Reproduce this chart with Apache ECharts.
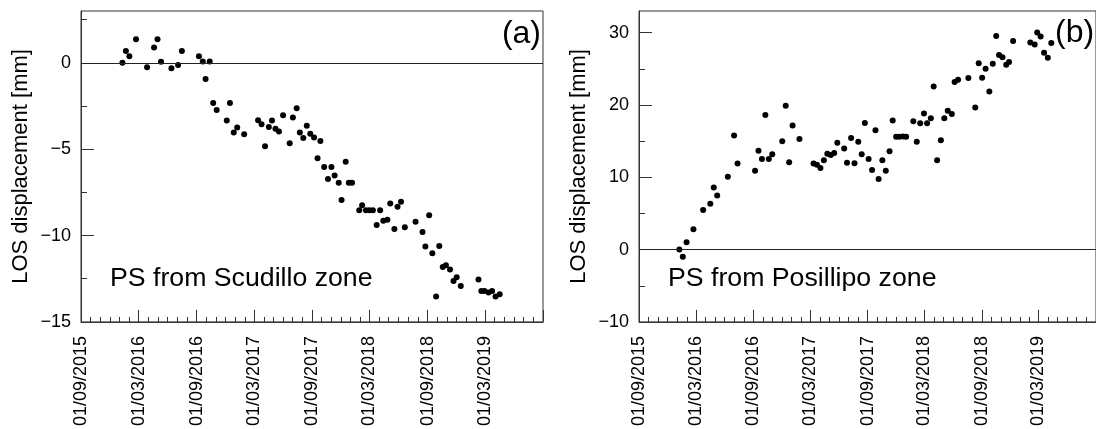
<!DOCTYPE html>
<html>
<head>
<meta charset="utf-8">
<script src="https://cdn.jsdelivr.net/npm/echarts@6/dist/echarts.min.js"></script>
<style>
  html, body { margin: 0; padding: 0; background: #fff; }
  #chart { width: 1096px; height: 429px; }
</style>
</head>
<body>
<div id="chart"></div>
<script>
// (a) PS from Scudillo zone
const DATES_A = [
  "2016-01-10", "2016-01-21", "2016-02-01", "2016-02-22", "2016-03-28", "2016-04-19",
  "2016-04-30", "2016-05-11", "2016-06-13", "2016-07-04", "2016-07-16", "2016-09-08",
  "2016-09-20", "2016-09-29", "2016-10-12", "2016-10-23", "2016-11-03", "2016-12-05",
  "2016-12-15", "2016-12-27", "2017-01-07", "2017-01-29", "2017-03-14", "2017-03-25",
  "2017-04-05", "2017-04-17", "2017-04-27", "2017-05-08", "2017-05-19", "2017-06-01",
  "2017-06-22", "2017-07-02", "2017-07-14", "2017-07-24", "2017-08-04", "2017-08-15",
  "2017-08-26", "2017-09-07", "2017-09-18", "2017-09-27", "2017-10-09", "2017-10-21",
  "2017-11-01", "2017-11-11", "2017-11-24", "2017-12-03", "2017-12-16", "2017-12-26",
  "2018-01-05", "2018-01-28", "2018-02-06", "2018-02-18", "2018-03-01", "2018-03-12",
  "2018-03-24", "2018-04-04", "2018-04-14", "2018-04-27", "2018-05-06", "2018-05-19",
  "2018-05-29", "2018-06-09", "2018-06-21", "2018-07-25", "2018-08-16", "2018-08-25",
  "2018-09-06", "2018-09-16", "2018-09-28", "2018-10-08", "2018-10-19", "2018-10-29",
  "2018-11-11", "2018-11-22", "2018-12-02", "2018-12-15", "2019-02-09", "2019-02-18",
  "2019-02-28", "2019-03-13", "2019-03-24", "2019-04-04", "2019-04-17"
];
const LOS_A = [
  0, 0.69, 0.38, 1.37, -0.25, 0.88,
  1.36, 0.06, -0.32, -0.13, 0.69, 0.38,
  0.08, -0.93, 0.08, -2.33, -2.73, -3.34,
  -2.33, -4.04, -3.74, -4.14, -3.32, -3.55,
  -4.83, -3.72, -3.34, -3.82, -3.97, -3.03,
  -4.66, -3.17, -2.63, -4.03, -4.35, -3.65,
  -4.1, -4.33, -5.52, -4.52, -6.03, -6.72,
  -6.03, -6.53, -6.95, -7.94, -5.73, -6.95,
  -6.95, -8.53, -8.25, -8.53, -8.53, -8.53,
  -9.39, -8.53, -9.14, -9.08, -8.15, -9.62,
  -8.34, -8.05, -9.52, -9.2, -9.79, -10.63,
  -8.82, -11.03, -13.53, -10.61, -11.82, -11.72,
  -11.97, -12.63, -12.41, -12.92, -12.54, -13.21,
  -13.21, -13.3, -13.21, -13.53, -13.4
];

// (b) PS from Posillipo zone
const DATES_B = [
  "2016-01-08", "2016-01-19", "2016-01-31", "2016-02-22", "2016-03-24", "2016-04-16",
  "2016-04-27", "2016-05-08", "2016-06-11", "2016-07-01", "2016-07-12", "2016-09-06",
  "2016-09-17", "2016-09-28", "2016-10-09", "2016-10-20", "2016-10-31", "2016-12-02",
  "2016-12-13", "2016-12-24", "2017-01-04", "2017-01-26", "2017-03-12", "2017-03-23",
  "2017-04-03", "2017-04-14", "2017-04-25", "2017-05-06", "2017-05-17", "2017-05-27",
  "2017-06-18", "2017-06-27", "2017-07-10", "2017-07-21", "2017-08-02", "2017-08-13",
  "2017-08-23", "2017-09-04", "2017-09-15", "2017-09-26", "2017-10-06", "2017-10-18",
  "2017-10-29", "2017-11-10", "2017-11-20", "2017-12-01", "2017-12-11", "2017-12-23",
  "2018-01-02", "2018-01-25", "2018-02-05", "2018-02-16", "2018-02-28", "2018-03-10",
  "2018-03-22", "2018-03-31", "2018-04-11", "2018-04-23", "2018-05-04", "2018-05-15",
  "2018-05-28", "2018-06-06", "2018-06-17", "2018-07-20", "2018-08-11", "2018-08-22",
  "2018-09-02", "2018-09-13", "2018-09-25", "2018-10-06", "2018-10-17", "2018-10-26",
  "2018-11-06", "2018-11-18", "2018-11-27", "2018-12-10", "2019-02-03", "2019-02-17",
  "2019-02-25", "2019-03-08", "2019-03-19", "2019-03-31", "2019-04-11"
];
const LOS_B = [
  0, -1.0, 1.01, 2.83, 5.47, 6.35,
  8.58, 7.48, 10.08, 15.79, 11.9, 10.9,
  13.68, 12.54, 18.6, 12.54, 13.19, 14.97,
  19.89, 12.09, 17.15, 15.28, 11.9, 11.72,
  11.27, 12.37, 13.27, 13.09, 13.37, 14.77,
  14.0, 12.0, 15.42, 11.96, 14.91, 13.19,
  17.51, 12.54, 11.0, 16.51, 9.77, 12.37,
  10.9, 13.6, 17.84, 15.6, 15.6, 15.65,
  15.6, 17.74, 14.91, 17.47, 18.84, 17.47,
  18.15, 22.57, 12.37, 15.14, 18.15, 19.2,
  18.74, 23.17, 23.49, 23.72, 19.66, 25.77,
  23.76, 25.03, 21.85, 25.72, 29.55, 26.9,
  26.6, 25.58, 25.95, 28.86, 28.64, 28.37,
  30.01, 29.47, 27.22, 26.54, 28.59
];

// axis ticks
const X_START = "2015-09-01";
const X_END = "2019-09-01";
const X_LABELS = [
  "2015-09-01", "2016-03-01", "2016-09-01", "2017-03-01",
  "2017-09-01", "2018-03-01", "2018-09-01", "2019-03-01"
];
const Y_MAJOR_A = [-15, -10, -5, 0];
const Y_MINOR_A = [-12.5, -7.5, -2.5, 2.5];
const Y_MAJOR_B = [-10, 0, 10, 20, 30];
const Y_MINOR_B = [-5, 5, 15, 25];

const FONT = "'Liberation Sans', Arial, sans-serif";

function toTs(s) {
  const p = s.split("-");
  return new Date(+p[0], +p[1] - 1, +p[2]).getTime();
}
function pad(n) { return n < 10 ? "0" + n : "" + n; }
function fmtDate(v) {
  const d = new Date(v + 12 * 3600 * 1000);
  return "01/" + pad(d.getMonth() + 1) + "/" + d.getFullYear();
}
function fmtNum(v) {
  return v < 0 ? "\u2212" + Math.abs(v) : "" + v;
}

const xMin = toTs(X_START);
const xMax = toTs(X_END);
const majorTs = X_LABELS.map(toTs).concat([xMax]);
const minorTs = [];
{
  let y = 2015, m = 9;
  while (y < 2019 || (y === 2019 && m < 9)) {
    m++;
    if (m > 12) { m = 1; y++; }
    const t = new Date(y, m - 1, 1).getTime();
    if (majorTs.indexOf(t) < 0) minorTs.push(t);
  }
}

const dataA = DATES_A.map((d, i) => [toTs(d), LOS_A[i]]);
const dataB = DATES_B.map((d, i) => [toTs(d), LOS_B[i]]);

function xMajor(grid) {
  return {
    type: "value", gridIndex: grid, position: "bottom", min: xMin, max: xMax,
    axisLine: { onZero: false, lineStyle: { color: "#333", width: 1 } },
    axisTick: { inside: true, length: 12, customValues: majorTs, lineStyle: { color: "#333" } },
    axisLabel: {
      customValues: X_LABELS.map(toTs), rotate: 90, margin: 14,
      color: "#000", fontSize: 18, fontFamily: FONT, formatter: fmtDate
    },
    splitLine: { show: false }
  };
}
function xMinor(grid) {
  return {
    type: "value", gridIndex: grid, position: "bottom", min: xMin, max: xMax,
    axisLine: { show: false, onZero: false },
    axisTick: { inside: true, length: 5, customValues: minorTs, lineStyle: { color: "#333" } },
    axisLabel: { show: false },
    splitLine: { show: false }
  };
}
function yMajor(grid, min, max, ticks) {
  return {
    type: "value", gridIndex: grid, position: "left", min: min, max: max,
    name: "LOS displacement [mm]", nameLocation: "middle", nameGap: 49,
    nameTextStyle: { color: "#000", fontSize: 22, fontFamily: FONT },
    axisLine: { show: true, onZero: false, lineStyle: { color: "#333", width: 1 } },
    axisTick: { inside: true, length: 13, customValues: ticks, lineStyle: { color: "#333" } },
    axisLabel: {
      customValues: ticks, margin: 10, color: "#000", fontSize: 18,
      fontFamily: FONT, formatter: fmtNum
    },
    splitLine: { show: false }
  };
}
function yMinor(grid, min, max, ticks) {
  return {
    type: "value", gridIndex: grid, position: "left", min: min, max: max,
    axisLine: { show: false, onZero: false },
    axisTick: { inside: true, length: 6, customValues: ticks, lineStyle: { color: "#333" } },
    axisLabel: { show: false },
    splitLine: { show: false }
  };
}
function scatter(xi, yi, data) {
  return {
    type: "scatter", xAxisIndex: xi, yAxisIndex: yi, data: data,
    symbol: "circle", symbolSize: 6,
    itemStyle: { color: "#000", opacity: 1 },
    markLine: {
      silent: true, symbol: "none", animation: false,
      label: { show: false },
      lineStyle: { color: "#222", type: "solid", width: 1.2 },
      data: [{ yAxis: 0 }]
    }
  };
}

const myChart = echarts.init(document.getElementById("chart"));
myChart.setOption({
  animation: false,
  grid: [
    { left: 81, top: 11, width: 462, height: 313, show: true, borderColor: "#333", borderWidth: 1 },
    { left: 639, top: 11, width: 461, height: 313, show: true, borderColor: "#333", borderWidth: 1 }
  ],
  xAxis: [xMajor(0), xMinor(0), xMajor(1), xMinor(1)],
  yAxis: [
    yMajor(0, -15, 3, Y_MAJOR_A), yMinor(0, -15, 3, Y_MINOR_A),
    yMajor(1, -10, 33, Y_MAJOR_B), yMinor(1, -10, 33, Y_MINOR_B)
  ],
  series: [scatter(0, 0, dataA), scatter(2, 2, dataB)],
  graphic: [
    { type: "text", x: 541, y: 34, style: { text: "(a)", align: "right", verticalAlign: "middle", fontSize: 32, fontFamily: FONT, fill: "#000" } },
    { type: "text", x: 1055, y: 33, style: { text: "(b)", align: "left", verticalAlign: "middle", fontSize: 32, fontFamily: FONT, fill: "#000" } },
    { type: "text", x: 110, y: 279, style: { text: "PS from Scudillo zone", align: "left", verticalAlign: "middle", fontSize: 26.7, fontFamily: FONT, fill: "#000" } },
    { type: "text", x: 668, y: 279, style: { text: "PS from Posillipo zone", align: "left", verticalAlign: "middle", fontSize: 26.7, fontFamily: FONT, fill: "#000" } }
  ]
});
</script>
</body>
</html>
